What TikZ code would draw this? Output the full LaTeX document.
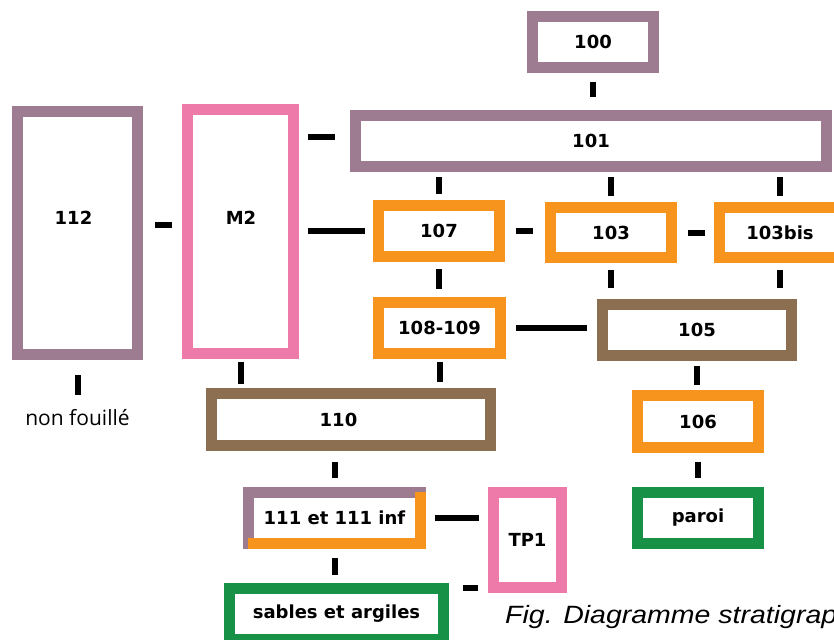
\documentclass[tikz,border=0pt]{standalone}
\usepackage{fontspec}
\usetikzlibrary{calc}
\setmainfont{DejaVu Sans}
\newfontfamily\capfont[FakeStretch=1.14]{Liberation Sans}
\newfontfamily\nffont{Open Sans}
\definecolor{mauve}{RGB}{157,123,145}
\definecolor{pinkc}{RGB}{238,122,170}
\definecolor{orangec}{RGB}{247,148,30}
\definecolor{brownc}{RGB}{140,110,80}
\definecolor{greenc}{RGB}{22,145,70}
\begin{document}
\begin{tikzpicture}[x=1pt,y=-1pt,
  lblfont/.style={font=\fontsize{18}{20}\selectfont\bfseries},
  box/.style={draw=#1, line width=11pt, fill=white, inner sep=0pt, lblfont},
  sz/.style 2 args={minimum width=#1pt, minimum height=#2pt},
  link/.style={draw=black, line width=6pt}]
\useasboundingbox (0,0) rectangle (834,639);

% boxes
\node[box=mauve, sz={121}{51}] (n100) at (593,42) {100};
\node[box=mauve, sz={471}{51}] (n101) at (591,141) {101};
\node[box=mauve, sz={120}{243}, label={[lblfont, xshift=-4pt, yshift=15pt]center:112}] (n112) at (77.5,233) {};
\node[box=pinkc, sz={106}{244}, label={[lblfont, xshift=0.5pt, yshift=13.5pt]center:M2}] (nM2) at (240.5,231.5) {};
\node[box=orangec, sz={121}{51}] (n107) at (439,231) {107};
\node[box=orangec, sz={121}{50}] (n103) at (611,232.5) {103};
\node[box=orangec, sz={121}{50}] (n103bis) at (780,232.5) {103bis};
\node[box=orangec, sz={122}{51}] (n108) at (439.5,328) {108-109};
\node[box=brownc, sz={189}{51}] (n105) at (697,330) {105};
\node[box=brownc, sz={279}{52}, label={[lblfont, xshift=-12.5pt]center:110}] (n110) at (351,419.5) {};
\node[box=orangec, sz={121}{52}] (n106) at (698,421.5) {106};
\node[box=greenc, sz={121}{51}] (nparoi) at (698,518) {paroi};
\node[box=mauve, sz={172}{51}] (n111) at (334.5,518) {111 et 111 inf};
\fill[orangec] ($(n111.north east)+(-11,5)$) rectangle (n111.south east);
\fill[orangec] ($(n111.south west)+(5,-11)$) rectangle (n111.south east);
\node[box=pinkc, sz={68}{95}] (nTP1) at (527.5,540) {TP1};
\node[box=greenc, sz={214}{51}] (nsab) at (336.5,614) {sables et argiles};

% texts
\node[font=\nffont\fontsize{21}{24}\selectfont, inner sep=0pt, anchor=base] (nf) at (77.5,425) {non fouillé};
\node[font=\capfont\itshape\fontsize{25}{28}\selectfont, inner sep=0pt, anchor=base west] (cap) at (505,623) {Fig. Diagramme stratigraphique};

% helper coordinates
\coordinate (c112) at ([yshift=8pt]n112.east);
\coordinate (c101) at ([yshift=4pt]n101.west);
\coordinate (csab) at ([yshift=26pt]nsab.east);

% connectors
\draw[link, shorten <=9pt, shorten >=13pt] (n100.south) -- (n100.south |- n101.north);
\draw[link, shorten <=5pt, shorten >=6pt] (n101.south -| n107.north) -- (n107.north);
\draw[link, shorten <=5pt, shorten >=6pt] (n101.south -| n103.north) -- (n103.north);
\draw[link, shorten <=5pt, shorten >=6pt] (n101.south -| n103bis.north) -- (n103bis.north);
\draw[link, shorten <=12pt, shorten >=10pt] (c112) -- (c112 -| nM2.west);
\draw[link, shorten <=9pt, shorten >=15pt] (c101 -| nM2.east) -- (c101);
\draw[link, shorten <=9pt, shorten >=8pt] (nM2.east |- n107.west) -- (n107.west);
\draw[link, shorten <=11pt, shorten >=12pt] (n107.east) -- (n107.east -| n103.west);
\draw[link, shorten <=11pt, shorten >=9pt] (n103.east) -- (n103.east -| n103bis.west);
\draw[link, shorten <=7pt, shorten >=8pt] (n107.south) -- (n107.south |- n108.north);
\draw[link, shorten <=7pt, shorten >=11pt] (n103.south) -- (n103.south |- n105.north);
\draw[link, shorten <=7pt, shorten >=11pt] (n103bis.south) -- (n103bis.south |- n105.north);
\draw[link, shorten <=10pt, shorten >=10pt] (n108.east) -- (n108.east -| n105.west);
\draw[link, shorten <=3pt, shorten >=6pt] (n108.south) -- (n108.south |- n110.north);
\draw[link, shorten <=3pt, shorten >=4pt] (nM2.south) -- (nM2.south |- n110.north);
\draw[link, shorten <=5pt, shorten >=5pt] (n105.south) -- (n105.south |- n106.north);
\draw[link, shorten <=9pt, shorten >=9pt] (n106.south) -- (nparoi.north);
\draw[link, shorten <=11pt, shorten >=9pt] (n110.south -| n111.north) -- (n111.north);
\draw[link, shorten <=9pt, shorten >=9pt] (n111.east) -- (n111.east -| nTP1.west);
\draw[link, shorten <=9pt, shorten >=8pt] (n111.south) -- (n111.south |- nsab.north);
\draw[link, shorten <=14pt, shorten >=10pt] (csab) -- (csab -| nTP1.west);
\draw[link, shorten <=15pt, shorten >=14pt] (n112.south) -- (n112.south |- nf.north);
\end{tikzpicture}
\end{document}
